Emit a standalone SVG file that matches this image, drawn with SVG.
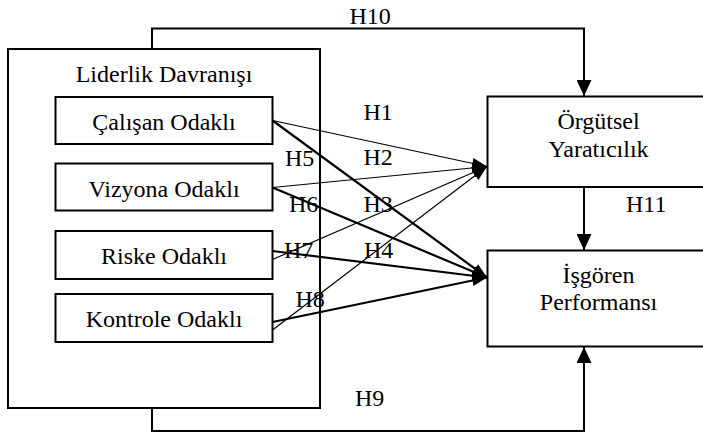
<svg xmlns="http://www.w3.org/2000/svg" width="703" height="434" viewBox="0 0 703 434" font-family="'Liberation Serif', 'Times New Roman', serif">
  <style>
    .box { fill: #fff; stroke: #000; stroke-width: 2; }
    .t { font-family: 'Liberation Serif', 'Times New Roman', serif; font-size: 24px; fill: #000; }
    .c { text-anchor: middle; }
    .wire { fill: none; stroke: #000; stroke-width: 2; }
    .thin { fill: none; stroke: #000; stroke-width: 1.2; }
    .thick { fill: none; stroke: #000; stroke-width: 2.2; }
  </style>
  <defs>
    <marker id="arrow" markerUnits="userSpaceOnUse" markerWidth="16" markerHeight="15" refX="16" refY="7.5" orient="auto">
      <path d="M0,0 L16,7.5 L0,15 z" fill="#000"/>
    </marker>
    <marker id="arrowS" markerUnits="userSpaceOnUse" markerWidth="15" markerHeight="11" refX="15" refY="5.5" orient="auto">
      <path d="M0,0 L15,5.5 L0,11 z" fill="#000"/>
    </marker>
  </defs>

  <rect width="703" height="434" fill="#fff"/>

  <!-- Leadership behaviour container -->
  <g id="liderlik">
    <rect class="box" x="8" y="49" width="312" height="359"/>
    <text class="t c" x="164" y="81.5">Liderlik Davranışı</text>
  </g>

  <g id="calisan">
    <rect class="box" x="55.5" y="97" width="217" height="47"/>
    <text class="t c" x="164" y="129.5">Çalışan Odaklı</text>
  </g>
  <g id="vizyona">
    <rect class="box" x="55.5" y="163.5" width="217" height="47"/>
    <text class="t c" x="164" y="196.5">Vizyona Odaklı</text>
  </g>
  <g id="riske">
    <rect class="box" x="55.5" y="231" width="217" height="48"/>
    <text class="t c" x="164" y="263.5">Riske Odaklı</text>
  </g>
  <g id="kontrole">
    <rect class="box" x="55.5" y="294" width="217" height="48"/>
    <text class="t c" x="164" y="326.5">Kontrole Odaklı</text>
  </g>

  <g id="orgutsel">
    <rect class="box" x="487.5" y="96.5" width="222" height="90.5"/>
    <text class="t c" x="598.5" y="129">Örgütsel</text>
    <text class="t c" x="598.5" y="156.5">Yaratıcılık</text>
  </g>
  <g id="isgoren">
    <rect class="box" x="487.5" y="250.5" width="222" height="96"/>
    <text class="t c" x="598.5" y="282.5">İşgören</text>
    <text class="t c" x="598.5" y="310">Performansı</text>
  </g>

  <!-- Hypothesis paths -->
  <g id="connectors">
    <path class="wire" d="M152,49 V28.5 H584 V96" marker-end="url(#arrow)"/>
    <path class="wire" d="M152,408 V431 H584 V347" marker-end="url(#arrow)"/>
    <path class="wire" d="M584,187 V250" marker-end="url(#arrow)"/>

    <line class="thin" x1="272.5" y1="120.5" x2="487" y2="166.5" marker-end="url(#arrowS)"/>
    <line class="thin" x1="272.5" y1="187.5" x2="487" y2="166.5" marker-end="url(#arrowS)"/>
    <line class="thin" x1="272.5" y1="259.5" x2="487" y2="166.5" marker-end="url(#arrowS)"/>
    <line class="thin" x1="272.5" y1="330" x2="487" y2="166.5" marker-end="url(#arrowS)"/>

    <line class="thick" x1="272.5" y1="120.5" x2="487" y2="277.5" marker-end="url(#arrowS)"/>
    <line class="thick" x1="272.5" y1="187.5" x2="487" y2="277.5" marker-end="url(#arrowS)"/>
    <line class="thick" x1="272.5" y1="251" x2="487" y2="277.5" marker-end="url(#arrowS)"/>
    <line class="thick" x1="272.5" y1="322" x2="487" y2="277.5" marker-end="url(#arrowS)"/>
  </g>

  <!-- Path labels -->
  <g id="labels">
    <text class="t" x="349.5" y="24">H10</text>
    <text class="t" x="363.5" y="119.5">H1</text>
    <text class="t" x="363.5" y="165">H2</text>
    <text class="t" x="363.5" y="211.5">H3</text>
    <text class="t" x="364" y="257.5">H4</text>
    <text class="t" x="285" y="165.5">H5</text>
    <text class="t" x="289" y="212">H6</text>
    <text class="t" x="284" y="257.5">H7</text>
    <text class="t" x="295.5" y="306.5">H8</text>
    <text class="t" x="355" y="406">H9</text>
    <text class="t" x="626" y="211.5">H11</text>
  </g>
</svg>
